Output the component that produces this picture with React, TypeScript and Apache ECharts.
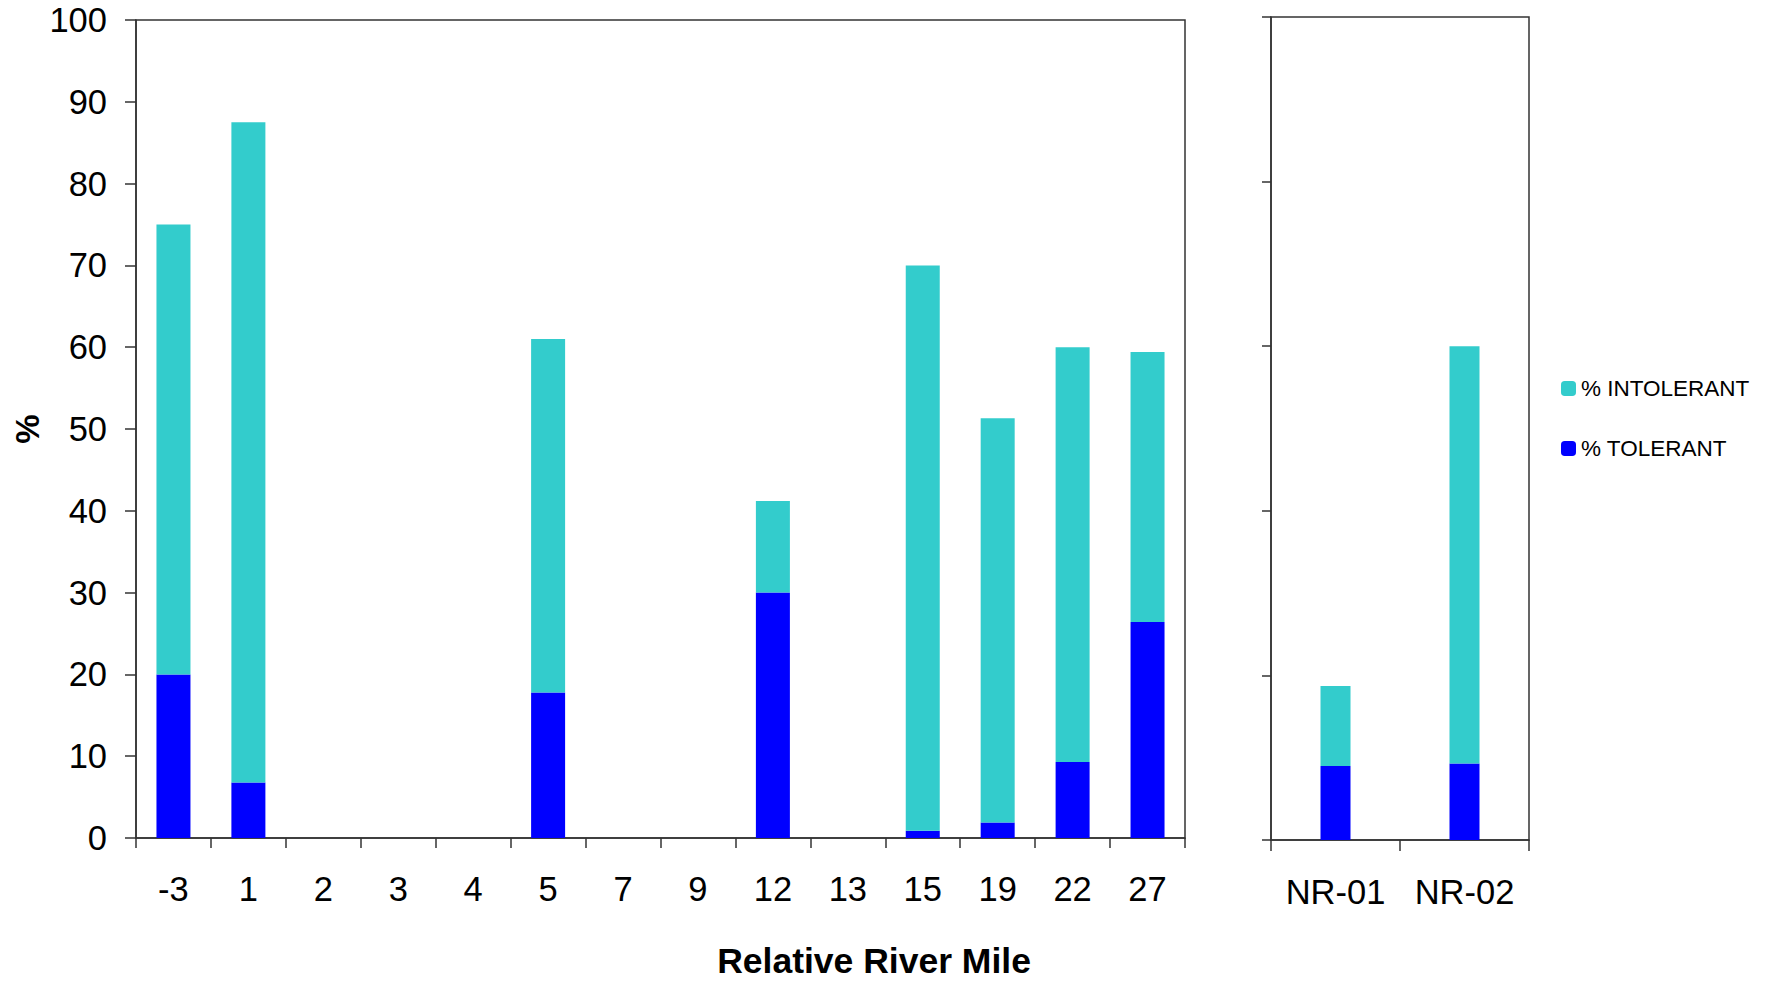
import React, { useEffect, useRef } from "react";
import * as echarts from "echarts";

const mileCategories = ["-3", "1", "2", "3", "4", "5", "7", "9", "12", "13", "15", "19", "22", "27"];
const mileTolerant = [20, 6.8, null, null, null, 17.8, null, null, 30, null, 0.9, 1.9, 9.3, 26.4];
const mileIntolerant = [55, 80.7, null, null, null, 43.2, null, null, 11.2, null, 69.1, 49.4, 50.7, 33.0];

const refCategories = ["NR-01", "NR-02"];
const refTolerant = [9.0, 9.3];
const refIntolerant = [9.7, 50.7];

const yTicksLeft = { min: 0, max: 100, interval: 10 };
const yTicksRight = { min: 0, max: 100, interval: 20 };

const INTOL = "% INTOLERANT";
const TOL = "% TOLERANT";
const CYAN = "#33CCCC";
const BLUE = "#0000FF";
const FONT = "Liberation Sans, Arial, Helvetica, sans-serif";

export default function App() {
  const ref = useRef<HTMLDivElement>(null);
  useEffect(() => {
    if (!ref.current) return;
    const chart = echarts.init(ref.current, undefined, { renderer: "svg" });
    const axisLineStyle = { color: "#333", width: 1.5 };
    const option: any = {
      animation: false,
      backgroundColor: "#fff",
      textStyle: { fontFamily: FONT },
      grid: [
        { left: 136, top: 20, width: 1049, height: 818, show: true, borderColor: "#333", borderWidth: 1.5, containLabel: false, outerBoundsMode: "none" },
        { left: 1271, top: 17, width: 258, height: 823, show: true, borderColor: "#333", borderWidth: 1.5, containLabel: false, outerBoundsMode: "none" },
      ],
      legend: {
        orient: "vertical",
        left: 1561,
        top: 377,
        padding: 0,
        itemWidth: 15,
        itemHeight: 15,
        itemGap: 37,
        data: [INTOL, TOL],
        textStyle: { fontSize: 22.5, color: "#000", fontFamily: FONT, lineHeight: 23 },
      },
      xAxis: [
        {
          type: "category",
          gridIndex: 0,
          data: mileCategories,
          axisLine: { lineStyle: axisLineStyle },
          axisTick: { show: true, length: 10, interval: 0, lineStyle: axisLineStyle },
          axisLabel: { fontSize: 34.5, color: "#000", margin: 33, interval: 0, fontFamily: FONT },
        },
        {
          type: "category",
          gridIndex: 1,
          data: refCategories,
          axisLine: { lineStyle: axisLineStyle },
          axisTick: { show: true, length: 11, interval: 0, lineStyle: axisLineStyle },
          axisLabel: { fontSize: 34.5, color: "#000", margin: 34, interval: 0, fontFamily: FONT },
        },
      ],
      yAxis: [
        {
          type: "value",
          gridIndex: 0,
          min: yTicksLeft.min,
          max: yTicksLeft.max,
          interval: yTicksLeft.interval,
          axisLine: { show: true, lineStyle: axisLineStyle },
          axisTick: { show: true, length: 11, lineStyle: axisLineStyle },
          splitLine: { show: false },
          axisLabel: { fontSize: 34.5, color: "#000", margin: 29, fontFamily: FONT },
        },
        {
          type: "value",
          gridIndex: 1,
          min: yTicksRight.min,
          max: yTicksRight.max,
          interval: yTicksRight.interval,
          axisLine: { show: true, lineStyle: axisLineStyle },
          axisTick: { show: true, length: 9, lineStyle: axisLineStyle },
          splitLine: { show: false },
          axisLabel: { show: false },
        },
      ],
      series: [
        { name: TOL, type: "bar", stack: "a", xAxisIndex: 0, yAxisIndex: 0, data: mileTolerant, barWidth: 34, itemStyle: { color: BLUE } },
        { name: INTOL, type: "bar", stack: "a", xAxisIndex: 0, yAxisIndex: 0, data: mileIntolerant, barWidth: 34, itemStyle: { color: CYAN } },
        { name: TOL, type: "bar", stack: "b", xAxisIndex: 1, yAxisIndex: 1, data: refTolerant, barWidth: 30, itemStyle: { color: BLUE } },
        { name: INTOL, type: "bar", stack: "b", xAxisIndex: 1, yAxisIndex: 1, data: refIntolerant, barWidth: 30, itemStyle: { color: CYAN } },
      ],
      graphic: [
        {
          type: "text",
          x: 874,
          y: 961,
          style: {
            text: "Relative River Mile",
            fontSize: 35.5,
            fontWeight: "bold",
            fill: "#000",
            fontFamily: FONT,
            align: "center",
            verticalAlign: "middle",
          },
        },
        {
          type: "text",
          x: 27,
          y: 429,
          rotation: Math.PI / 2,
          style: {
            text: "%",
            fontSize: 33,
            fontWeight: "bold",
            fill: "#000",
            fontFamily: FONT,
            align: "center",
            verticalAlign: "middle",
          },
        },
      ],
    };
    chart.setOption(option);
    return () => chart.dispose();
  }, []);
  return (
    <div
      ref={ref}
      style={{ position: "fixed", left: 0, top: 0, width: 1767, height: 982, background: "#fff" }}
    />
  );
}
